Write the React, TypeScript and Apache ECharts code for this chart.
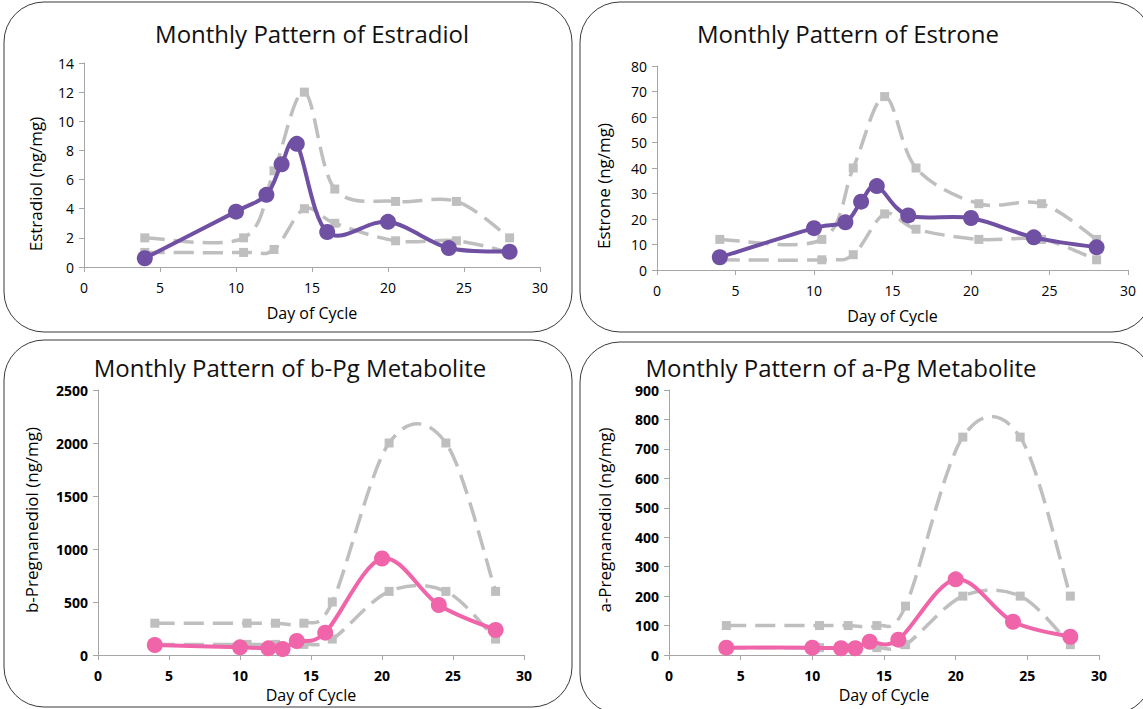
import React, { useEffect, useRef } from "react";
import * as echarts from "echarts";

// ---- data ----
const meanDays = [4, 10, 12, 13, 14, 16, 20, 24, 28];
const rangeDays = [4, 10.5, 12.5, 14.5, 16.5, 20.5, 24.5, 28];

const estradiolMean = [0.6, 3.8, 4.95, 7.05, 8.45, 2.4, 3.1, 1.3, 1.05];
const estradiolHigh = [2, 2, 6.6, 12, 5.35, 4.5, 4.5, 2];
const estradiolLow = [1, 1, 1.2, 4, 3, 1.8, 1.8, 1];

const estroneMean = [5, 16.4, 18.7, 26.8, 32.9, 21.4, 20.4, 12.8, 8.9];
const estroneHigh = [12, 12, 40, 68, 40, 26, 26, 12];
const estroneLow = [4, 4, 6, 22, 16, 12, 12, 4];

const bpgMean = [94, 72, 63, 57, 132, 211, 910, 472, 236];
const bpgHigh = [300, 300, 300, 300, 500, 2000, 2000, 600];
const bpgLow = [100, 100, 100, 100, 150, 600, 600, 150];

const apgMean = [25, 25, 23, 23, 45, 52, 257, 113, 62];
const apgHigh = [100, 100, 100, 100, 166, 740, 740, 200];
const apgLow = [25, 25, 25, 25, 35, 200, 200, 35];

const titles = [
  "Monthly Pattern of Estradiol",
  "Monthly Pattern of Estrone",
  "Monthly Pattern of b-Pg Metabolite",
  "Monthly Pattern of a-Pg Metabolite",
];
const yNames = [
  "Estradiol (ng/mg)",
  "Estrone (ng/mg)",
  "b-Pregnanediol (ng/mg)",
  "a-Pregnanediol (ng/mg)",
];
const yMaxes = [14, 80, 2500, 900];
const yIntervals = [2, 10, 500, 100];
const xName = "Day of Cycle";

// ---- styling / layout ----
const FONT = '"Open Sans", "Noto Sans", sans-serif';
const GRAY = "#bfbfbf";
const AXIS = "#a6a6a6";
const PURPLE = "#6f50a3";
const PINK = "#f064a9";

const grids = [
  { left: 84, top: 63, width: 456, height: 204 },
  { left: 657, top: 66, width: 471, height: 204 },
  { left: 98, top: 390, width: 426, height: 265 },
  { left: 669, top: 390, width: 430, height: 265 },
];
const xNameGaps = [38, 38, 32, 32];
const boxes = [
  { x: 4, y: 2, width: 568, height: 330 },
  { x: 580, y: 2, width: 572, height: 330 },
  { x: 4, y: 340, width: 568, height: 367 },
  { x: 580, y: 342, width: 572, height: 372 },
];
const titlePos = [
  { x: 312, y: 33 },
  { x: 848, y: 33 },
  { x: 290, y: 367 },
  { x: 841, y: 367 },
];
const yNamePos = [
  { x: 35, y: 184 },
  { x: 603, y: 186 },
  { x: 31, y: 520 },
  { x: 604, y: 520 },
];

const panelData = [
  { mean: estradiolMean, high: estradiolHigh, low: estradiolLow, color: PURPLE, bold: false },
  { mean: estroneMean, high: estroneHigh, low: estroneLow, color: PURPLE, bold: false },
  { mean: bpgMean, high: bpgHigh, low: bpgLow, color: PINK, bold: true },
  { mean: apgMean, high: apgHigh, low: apgLow, color: PINK, bold: true },
];

function pairs(xs: number[], ys: number[]) {
  return xs.map((x, i) => [x, ys[i]]);
}

// Excel-like smoothed line (Catmull-Rom through pixel points from the axes)
function smoothPath(pts: number[][]) {
  const n = pts.length;
  let d = `M${pts[0][0]},${pts[0][1]}`;
  for (let i = 0; i < n - 1; i++) {
    const p0 = pts[Math.max(i - 1, 0)];
    const p1 = pts[i];
    const p2 = pts[i + 1];
    const p3 = pts[Math.min(i + 2, n - 1)];
    const c1x = p1[0] + (p2[0] - p0[0]) / 6;
    const c1y = p1[1] + (p2[1] - p0[1]) / 6;
    const c2x = p2[0] - (p3[0] - p1[0]) / 6;
    const c2y = p2[1] - (p3[1] - p1[1]) / 6;
    d += ` C${c1x},${c1y} ${c2x},${c2y} ${p2[0]},${p2[1]}`;
  }
  return d;
}

function curveSeries(i: number, data: number[][], color: string, width: number, dash: any, z: number) {
  return {
    type: "custom",
    xAxisIndex: i,
    yAxisIndex: i,
    clip: false,
    silent: true,
    z,
    data,
    renderItem: (params: any, api: any) => {
      if (params.dataIndex !== 0) return null;
      const pts = data.map((p) => api.coord(p));
      return {
        type: "path",
        shape: { pathData: smoothPath(pts) },
        style: {
          fill: "none",
          stroke: color,
          lineWidth: width,
          lineDash: dash,
          lineCap: "butt",
          lineJoin: "round",
        },
      };
    },
  };
}

export default function App() {
  const ref = useRef<HTMLDivElement>(null);

  useEffect(() => {
    document.body.style.margin = "0";
    if (!ref.current) return;
    const chart = echarts.init(ref.current, null, { renderer: "svg" });

    const series: any[] = [];
    panelData.forEach((p, i) => {
      const high = pairs(rangeDays, p.high);
      const low = pairs(rangeDays, p.low);
      const mean = pairs(meanDays, p.mean);
      series.push(curveSeries(i, high, GRAY, 3.5, [20, 9], 2));
      series.push(curveSeries(i, low, GRAY, 3.5, [20, 9], 2));
      [high, low].forEach((d) =>
        series.push({
          type: "scatter",
          xAxisIndex: i,
          yAxisIndex: i,
          symbol: "rect",
          symbolSize: 9,
          itemStyle: { color: GRAY, opacity: 1 },
          data: d,
          z: 3,
        })
      );
      series.push(curveSeries(i, mean, p.color, 4, null, 4));
      series.push({
        type: "scatter",
        xAxisIndex: i,
        yAxisIndex: i,
        symbol: "circle",
        symbolSize: 16,
        itemStyle: { color: p.color, opacity: 1 },
        data: mean,
        z: 5,
      });
    });

    const option: any = {
      animation: false,
      backgroundColor: "#ffffff",
      grid: grids.map((g) => ({ ...g, containLabel: false })),
      xAxis: grids.map((_, i) => ({
        type: "value",
        gridIndex: i,
        min: 0,
        max: 30,
        interval: 5,
        name: xName,
        nameLocation: "middle",
        nameGap: xNameGaps[i],
        nameTextStyle: { fontFamily: FONT, fontSize: 16, color: "#000" },
        axisLine: { show: true, lineStyle: { color: AXIS, width: 1 } },
        axisTick: { show: true, length: 5, lineStyle: { color: AXIS } },
        axisLabel: {
          fontFamily: FONT,
          fontSize: 14,
          color: "#000",
          margin: 13,
          fontWeight: panelData[i].bold ? "bold" : "normal",
          formatter: (v: number) => String(v),
        },
        splitLine: { show: false },
      })),
      yAxis: grids.map((_, i) => ({
        type: "value",
        gridIndex: i,
        min: 0,
        max: yMaxes[i],
        interval: yIntervals[i],
        axisLine: { show: true, lineStyle: { color: AXIS, width: 1 } },
        axisTick: { show: true, length: 5, lineStyle: { color: AXIS } },
        axisLabel: {
          fontFamily: FONT,
          fontSize: 14,
          color: "#000",
          margin: 10,
          fontWeight: panelData[i].bold ? "bold" : "normal",
          formatter: (v: number) => String(v),
        },
        splitLine: { show: false },
      })),
      graphic: [
        ...boxes.map((b) => ({
          type: "rect",
          silent: true,
          z: -10,
          shape: { ...b, r: 40 },
          style: { fill: "none", stroke: "#3a3a3a", lineWidth: 1 },
        })),
        ...titlePos.map((t, i) => ({
          type: "text",
          x: t.x,
          y: t.y,
          silent: true,
          style: {
            text: titles[i],
            font: `24px ${FONT}`,
            fill: "#111",
            align: "center",
            verticalAlign: "middle",
          },
        })),
        ...yNamePos.map((t, i) => ({
          type: "text",
          x: t.x,
          y: t.y,
          rotation: Math.PI / 2,
          silent: true,
          style: {
            text: yNames[i],
            font: `17px ${FONT}`,
            fill: "#000",
            align: "center",
            verticalAlign: "middle",
          },
        })),
      ],
      series,
    };

    chart.setOption(option);
    return () => chart.dispose();
  }, []);

  return <div ref={ref} style={{ width: 1143, height: 709 }} />;
}
